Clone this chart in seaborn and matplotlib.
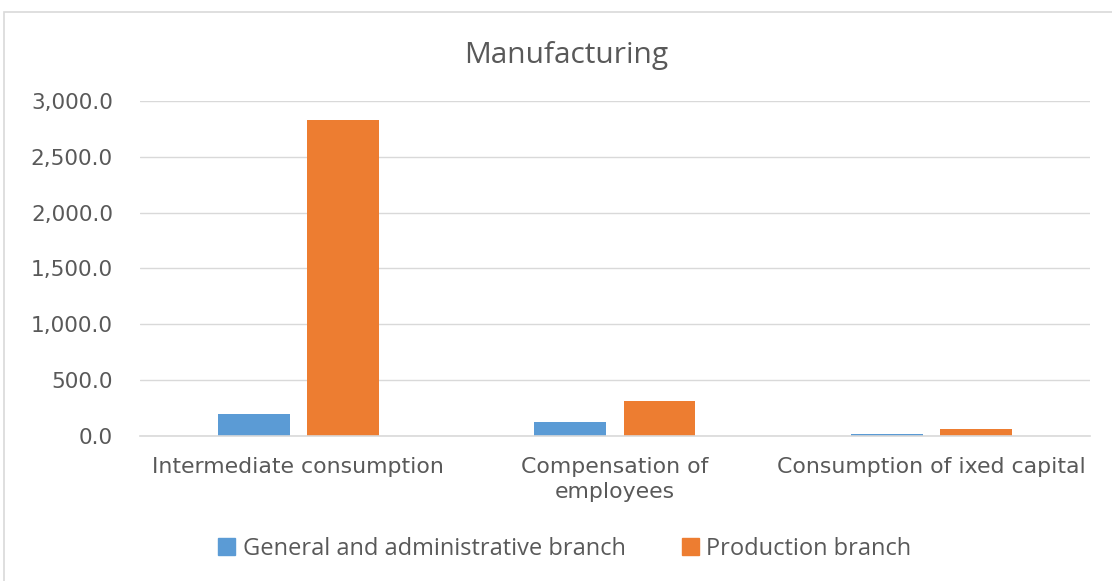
import matplotlib
matplotlib.use("Agg")
import matplotlib.pyplot as plt
import seaborn as sns
import pandas as pd
from matplotlib.patches import Rectangle
from matplotlib.ticker import FuncFormatter

categories = ["Intermediate consumption", "Compensation of\nemployees", "Consumption of ixed capital"]
series_names = ["General and administrative branch", "Production branch"]
general_admin = [200, 122, 20]
production = [2832, 317, 66]
y_ticks = [0, 500, 1000, 1500, 2000, 2500, 3000]

colors = ["#5B9BD5", "#ED7D31"]
text_color = "#595959"

df = pd.DataFrame({
    "category": categories * 2,
    "branch": [series_names[0]] * 3 + [series_names[1]] * 3,
    "value": general_admin + production,
})

sns.set_theme(style="white")
plt.rcParams["font.family"] = ["DejaVu Sans"]

fig = plt.figure(figsize=(11.12, 5.81), dpi=100)
ax = fig.add_axes([0.1259, 0.2496, 0.854, 0.5766])

sns.barplot(data=df, x="category", y="value", hue="branch", palette=colors,
            width=0.565, gap=0.196, ax=ax, legend=False, saturation=1,
            edgecolor="none")

ax.set_ylim(0, 3000)
ax.set_xlim(-0.5, 2.5)
ax.set_yticks(y_ticks)
ax.yaxis.set_major_formatter(FuncFormatter(lambda v, p: f"{v:,.1f}"))
ax.grid(axis="y", color="#D9D9D9", linewidth=1)
ax.set_axisbelow(True)
for s in ["top", "right", "left"]:
    ax.spines[s].set_visible(False)
ax.spines["bottom"].set_color("#D9D9D9")
ax.spines["bottom"].set_linewidth(1.2)
ax.tick_params(axis="y", labelsize=15.6, labelcolor=text_color, length=0, pad=19.5)
ax.tick_params(axis="x", labelsize=15.8, labelcolor=text_color, length=0, pad=15)
for lbl in ax.get_xticklabels():
    lbl.set_linespacing(1.3)
ax.set_xlabel("")
ax.set_ylabel("")

fig.text(0.509, 0.905, "Manufacturing", ha="center", va="center",
         fontsize=21.5, color=text_color, family=["Open Sans", "DejaVu Sans"])

handles = [Rectangle((0, 0), 1, 1, color=c) for c in colors]
fig.legend(handles, series_names, loc="center", bbox_to_anchor=(0.508, 0.055),
           ncol=2, frameon=False, handlelength=0.72, handleheight=0.72,
           handletextpad=0.3, columnspacing=2.4, labelcolor=text_color,
           prop={"family": ["Open Sans", "DejaVu Sans"], "size": 17})

fig.patches.append(Rectangle((0.0036, -0.05), 1.2, 1.029, transform=fig.transFigure,
                             fill=False, edgecolor="#D9D9D9", linewidth=1.2))

fig.savefig("out.png", dpi=100)
